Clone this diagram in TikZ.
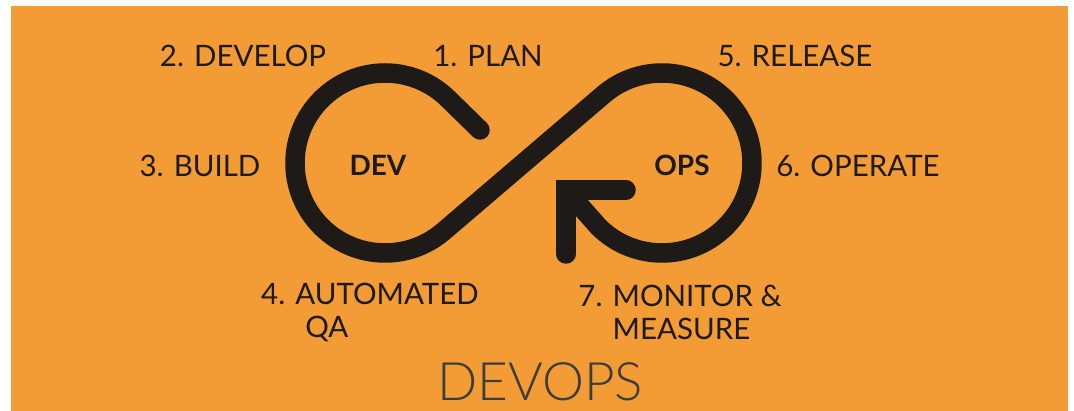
\documentclass[tikz,border=0pt]{standalone}
\usepackage{fontspec}
\setmainfont{Lato}
\newfontfamily\thinfont{Lato Light}
\definecolor{devorange}{RGB}{243,155,52}
\definecolor{inkblack}{RGB}{30,26,24}
\definecolor{titlegray}{RGB}{60,60,60}
\tikzset{
  step label/.style={text=inkblack, font=\fontsize{29.5}{33}\selectfont, inner sep=0pt},
  loop label/.style={text=inkblack, font=\fontsize{28}{30}\selectfont\bfseries, inner sep=0pt},
  loop stroke/.style={draw=inkblack, line width=19.5pt, line cap=round, line join=round}
}
\begin{document}
\begin{tikzpicture}[x=1pt, y=1pt]
      \useasboundingbox (0,0) rectangle (1074,411);
      \fill[white] (0,0) rectangle (1074,411);
      \fill[devorange] (11,0) rectangle (1068,405);
      \coordinate (devc) at (385,248);
      \coordinate (opsc) at (662,248);
      \coordinate (start) at (480,281);
      \coordinate (corner) at (566,221);
      % infinity loop
      \draw[loop stroke]
        (start) -- ([shift={(45:90)}]devc)
        arc[start angle=45, end angle=310.5, radius=90]
        -- ([shift={(130.5:90)}]opsc)
        arc[start angle=130.5, end angle=-135, radius=90]
        -- (corner);
      \draw[loop stroke, line join=miter] (626,221) -- (corner) -- (566,157);
      \draw
        (488,355) node[step label] (plan){1. PLAN}
        (243,355) node[step label] (develop){2. DEVELOP}
        (200,245) node[step label] (build){3. BUILD}
        (370,98.5) node[step label, align=left] (qa){4. AUTOMATED\\\hphantom{4. }\hspace{10pt}QA}
        (795,355) node[step label] (release){5. RELEASE}
        (858,245) node[step label] (operate){6. OPERATE}
        (680,98.5) node[step label, align=left] (monitor){7. MONITOR \&\\\hphantom{7. }MEASURE}
        (378,246) node[loop label] (dev){DEV}
        (682,246) node[loop label] (ops){OPS}
        (540,29) node[text=titlegray, font=\fontsize{53}{55}\selectfont\thinfont, inner sep=0pt] (title){DEVOPS};
    \end{tikzpicture}
\end{document}
